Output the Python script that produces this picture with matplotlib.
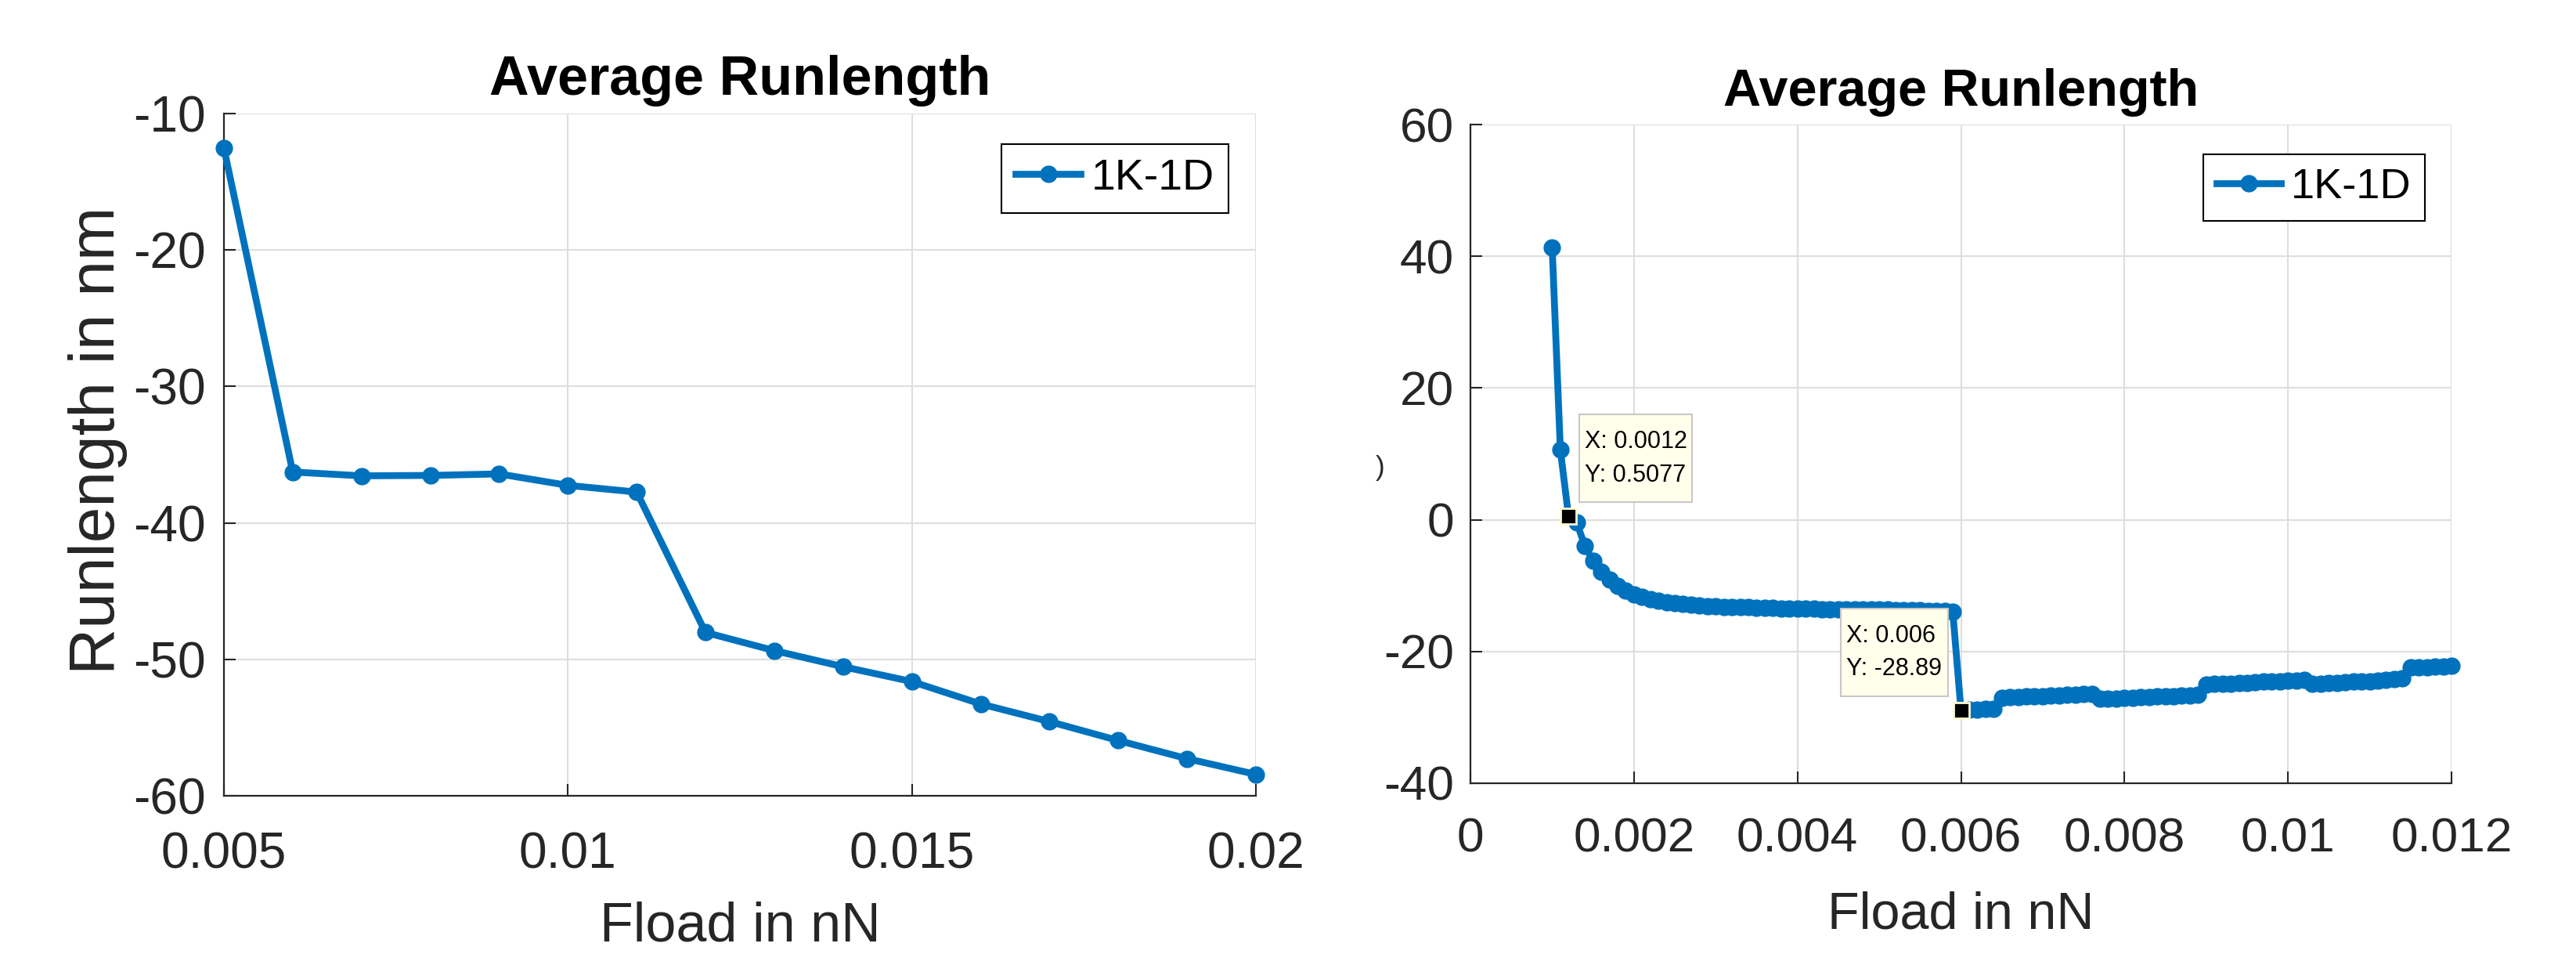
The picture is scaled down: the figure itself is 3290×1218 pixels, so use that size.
import numpy as np
import matplotlib
matplotlib.use("Agg")
import matplotlib.pyplot as plt
from matplotlib import font_manager
from matplotlib.patches import Rectangle
from matplotlib.transforms import IdentityTransform

# ---------------- data ----------------
left_x = [0.005, 0.006, 0.007, 0.008, 0.009, 0.010, 0.011, 0.012,
          0.013, 0.014, 0.015, 0.016, 0.017, 0.018, 0.019, 0.020]
left_y = [-12.55, -36.27, -36.55, -36.52, -36.41, -37.25, -37.74, -48.03,
          -49.36, -50.54, -51.63, -53.27, -54.56, -55.95, -57.28, -58.43]

right_x = np.round(np.linspace(0.001, 0.012, 111), 4)
right_y = [41.3, 10.6, 0.5077, -0.4, -4.0, -6.2, -7.9, -9.1, -10.0, -10.8,
           -11.3, -11.7, -12.0, -12.3, -12.5, -12.7, -12.8, -12.9, -13.0, -13.1,
           -13.15, -13.2, -13.25, -13.3, -13.3, -13.35, -13.4, -13.4, -13.45, -13.45,
           -13.5, -13.5, -13.5, -13.55, -13.55, -13.55, -13.6, -13.6, -13.6, -13.6,
           -13.65, -13.65, -13.7, -13.7, -13.7, -13.75, -13.8, -13.8, -13.85, -14.0,
           -28.89, -28.8, -28.8, -28.75, -28.7,
           -27.0, -26.95, -26.9, -26.85, -26.8, -26.75, -26.7, -26.65, -26.6, -26.55, -26.5, -26.4,
           -27.2, -27.15, -27.1, -27.05, -27.0, -26.95, -26.9, -26.85, -26.8, -26.75, -26.7, -26.65, -26.6,
           -25.0, -24.95, -24.9, -24.85, -24.8, -24.75, -24.7, -24.6, -24.55, -24.5, -24.45, -24.4, -24.3,
           -24.9, -24.85, -24.8, -24.75, -24.7, -24.6, -24.55, -24.5, -24.4, -24.3, -24.2, -24.1,
           -22.45, -22.4, -22.35, -22.3, -22.25, -22.2]
assert len(right_y) == len(right_x)

left_xticks = [0.005, 0.01, 0.015, 0.02]
left_xticklabels = ["0.005", "0.01", "0.015", "0.02"]
left_yticks = [-60, -50, -40, -30, -20, -10]
right_xticks = [0, 0.002, 0.004, 0.006, 0.008, 0.01, 0.012]
right_xticklabels = ["0", "0.002", "0.004", "0.006", "0.008", "0.01", "0.012"]
right_yticks = [-40, -20, 0, 20, 40, 60]

tips_x = [0.0012, 0.006]
tips_y = [0.5077, -28.89]
tips_text = ["X: 0.0012\nY: 0.5077", "X: 0.006\nY: -28.89"]

series_label = "1K-1D"
title_text = "Average Runlength"
xlabel_text = "Fload in nN"
ylabel_text = "Runlength in nm"

# ---------------- style ----------------
names = {f.name for f in font_manager.fontManager.ttflist}
if "Liberation Sans Narrow" in names:
    NARROW, SC = "Liberation Sans Narrow", 1.0
else:
    NARROW, SC = "Liberation Sans", 0.87
REG = "Liberation Sans"
plt.rcParams["font.family"] = [NARROW, "DejaVu Sans"]
plt.rcParams["axes.unicode_minus"] = False

BLUE = "#0072BD"
AXC = "#262626"
GRIDC = "#dedede"

W, H = 3290, 1218
fig = plt.figure(figsize=(W / 100, H / 100), dpi=100)


def px_axes(x0, y0, x1, y1):
    return fig.add_axes([x0 / W, 1 - y1 / H, (x1 - x0) / W, (y1 - y0) / H])


def style(ax, tick_fs, ypad_pt, xpad_pt):
    for s in ["top", "right"]:
        ax.spines[s].set_visible(False)
    for s in ["left", "bottom"]:
        ax.spines[s].set_color(AXC)
        ax.spines[s].set_linewidth(1.6)
    ax.grid(True, color=GRIDC, linewidth=1.5)
    ax.set_axisbelow(True)
    ax.tick_params(axis="both", direction="in", length=11, width=1.5, color=AXC,
                   labelcolor=AXC, labelsize=tick_fs)
    ax.tick_params(axis="y", pad=ypad_pt)
    ax.tick_params(axis="x", pad=xpad_pt)


def legend(ax, x_right, y_top, fs):
    leg = ax.legend(loc="upper right", bbox_to_anchor=(x_right / W, 1 - y_top / H),
                    bbox_transform=fig.transFigure, borderaxespad=0, fontsize=fs,
                    fancybox=False, framealpha=1, edgecolor="black", borderpad=0.32,
                    handlelength=1.5, handletextpad=0.25, numpoints=1)
    leg.get_frame().set_linewidth(1.5)
    return leg


# ---------------- left ----------------
axL = px_axes(286, 145, 1604, 1016)
axL.plot(left_x, left_y, "-o", color=BLUE, lw=6.3, ms=15, mfc=BLUE, mec=BLUE,
         clip_on=False, label=series_label, zorder=3)
axL.set_xlim(0.005, 0.02)
axL.set_ylim(-60, -10)
axL.set_xticks(left_xticks)
axL.set_xticklabels(left_xticklabels)
axL.set_yticks(left_yticks)
style(axL, 53 * SC, 16.5, 33)
axL.set_title(title_text, fontsize=58 * SC, fontweight="bold", color="black", pad=17)
axL.set_xlabel(xlabel_text, fontsize=58 * SC, color=AXC, va="bottom")
axL.xaxis.set_label_coords(0.5, -(1216 - 1016) / (1016 - 145))
axL.set_ylabel(ylabel_text, fontsize=59, color=AXC, family=[REG, "DejaVu Sans"])
axL.yaxis.set_label_coords((163 - 286) / (1604 - 286), 1 - (562 - 145) / (1016 - 145))
legend(axL, 1569, 184, 40)

# ---------------- right ----------------
axR = px_axes(1878, 159, 3131, 1000)
axR.plot(right_x, right_y, "-o", color=BLUE, lw=6.3, ms=15, mfc=BLUE, mec=BLUE,
         clip_on=False, label=series_label, zorder=3)
axR.set_xlim(0, 0.012)
axR.set_ylim(-40, 60)
axR.set_xticks(right_xticks)
axR.set_xticklabels(right_xticklabels)
axR.set_yticks(right_yticks)
style(axR, 51.5 * SC, 15, 31)
axR.set_title(title_text, fontsize=55 * SC, fontweight="bold", color="black", pad=17)
axR.set_xlabel(xlabel_text, fontsize=55 * SC, color=AXC)
axR.xaxis.set_label_coords(0.5, -(1137 - 1000) / (1000 - 159))
legend(axR, 3097, 197, 39)

# data tips: black square on the point plus a pale yellow label box
axR.plot(tips_x, tips_y, "s", ms=15, mfc="black", mec="#fffbd0", mew=2,
         clip_on=False, zorder=5, linestyle="none")
tip_geom = [  # (dx from point to box edge, side, box width) in pixels
    (14, "left", 144),
    (-17, "right", 137),
]
for tx, ty, tt, (dx, side, bw) in zip(tips_x, tips_y, tips_text, tip_geom):
    px, py = axR.transData.transform((tx, ty))
    bh = 112
    x0 = px + dx if side == "left" else px + dx - bw
    y0 = py + 18
    axR.add_patch(Rectangle((x0, y0), bw, bh, transform=IdentityTransform(),
                            facecolor="#ffffec", edgecolor="#c8c8c8", lw=1.5,
                            clip_on=False, zorder=6))
    axR.text(x0 + 7, y0 + bh - 20, tt, transform=IdentityTransform(), ha="left",
             va="top", fontsize=22, color="black", linespacing=1.55, zorder=7,
             clip_on=False)

# clipped fragment of a label at left of right panel
fig.text(1763 / W, 1 - 597 / H, ")", fontsize=25, color=AXC, ha="center", va="center")

fig.savefig("out.png", dpi=100)
